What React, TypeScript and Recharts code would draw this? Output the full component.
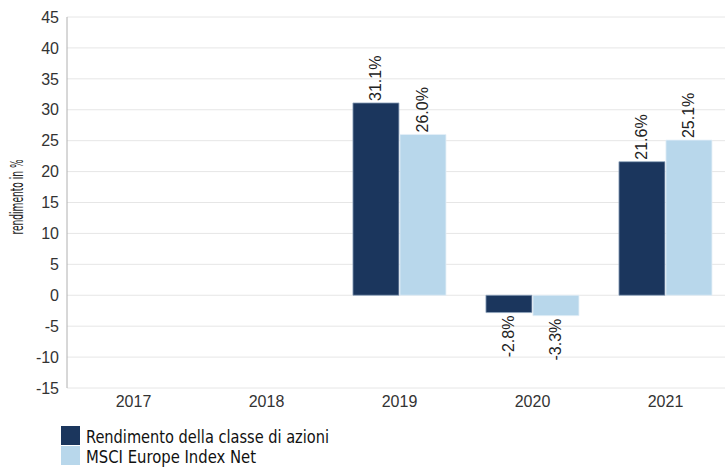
import React from 'react';
import { BarChart, Bar, XAxis, YAxis, CartesianGrid, LabelList } from 'recharts';

const years = ['2017', '2018', '2019', '2020', '2021'];
const fundReturns: (number | null)[] = [null, null, 31.1, -2.8, 21.6];
const indexReturns: (number | null)[] = [null, null, 26.0, -3.3, 25.1];
const yTicks = [-15, -10, -5, 0, 5, 10, 15, 20, 25, 30, 35, 40, 45];

const seriesNames = ['Rendimento della classe di azioni', 'MSCI Europe Index Net'];
const legendLengths = [243, 170];
const DARK = '#1b365d';
const LIGHT = '#b8d7eb';
const SANS = '"Liberation Sans", Arial, sans-serif';
const NARROW = '"Liberation Sans Narrow", "DejaVu Sans Condensed", "Liberation Sans", sans-serif';

const data = years.map((y, i) => ({ year: y, fund: fundReturns[i], index: indexReturns[i] }));

function fmtPct(v: number) {
  return `${v.toFixed(1)}%`;
}

function RotLabel(props: any) {
  const { x, y, width, height, value } = props;
  if (value === null || value === undefined) return null;
  const cx = Number(x) + Number(width) / 2;
  const top = Math.min(Number(y), Number(y) + Number(height));
  const bottom = Math.max(Number(y), Number(y) + Number(height));
  const pos = value >= 0;
  const ay = pos ? top - 2 : bottom + 3;
  return (
    <text
      x={cx}
      y={ay}
      transform={`rotate(-90 ${cx} ${ay})`}
      textAnchor={pos ? 'start' : 'end'}
      dominantBaseline="central"
      style={{ fontSize: 16, fontFamily: SANS, fill: '#222' }}
    >
      {fmtPct(value)}
    </text>
  );
}

function YLabel() {
  return (
    <text
      x={17}
      y={197}
      transform="rotate(-90 17 197)"
      textAnchor="middle"
      dominantBaseline="central"
      textLength={75}
      lengthAdjust="spacingAndGlyphs"
      style={{ fontSize: 17, fontFamily: NARROW, fill: '#222' }}
    >
      rendimento in %
    </text>
  );
}

export default function App() {
  return (
    <div style={{ position: 'absolute', left: 0, top: 0, width: 725, height: 468, overflow: 'hidden', background: '#fff', fontFamily: SANS }}>
      <BarChart
        width={735}
        height={468}
        data={data}
        margin={{ top: 17, right: 3, left: 0, bottom: 50 }}
        barCategoryGap="15%"
        barGap={1}
        style={{ fontFamily: SANS }}
      >
        <CartesianGrid vertical={false} stroke="#e6e6e6" />
        <XAxis
          dataKey="year"
          tickLine={false}
          axisLine={false}
          height={30}
          tick={{ fontSize: 16, fill: '#333', fontFamily: SANS }}
        />
        <YAxis
          domain={[-15, 45]}
          ticks={yTicks}
          interval={0}
          width={67}
          tickLine={false}
          axisLine={{ stroke: '#b0b0b0' }}
          tick={{ fontSize: 16, fill: '#333', fontFamily: SANS }}
        />
        <Bar dataKey="fund" name={seriesNames[0]} fill={DARK} stroke="#8fa4bd" strokeWidth={0.8} isAnimationActive={false}>
          <LabelList dataKey="fund" content={RotLabel} />
        </Bar>
        <Bar dataKey="index" name={seriesNames[1]} fill={LIGHT} stroke="#e3eff7" strokeWidth={0.8} isAnimationActive={false}>
          <LabelList dataKey="index" content={RotLabel} />
        </Bar>
        <YLabel />
      </BarChart>
      <svg width={420} height={44} style={{ position: 'absolute', left: 0, top: 424 }}>
        {seriesNames.map((n, i) => (
          <g key={n}>
            <rect x={61} y={2 + i * 20} width={19} height={19} fill={i === 0 ? DARK : LIGHT} />
            <text
              x={86}
              y={12 + i * 20}
              dominantBaseline="central"
              textLength={legendLengths[i]}
              lengthAdjust="spacingAndGlyphs"
              style={{ fontSize: 18, fontFamily: NARROW, fill: '#111' }}
            >
              {n}
            </text>
          </g>
        ))}
      </svg>
    </div>
  );
}
